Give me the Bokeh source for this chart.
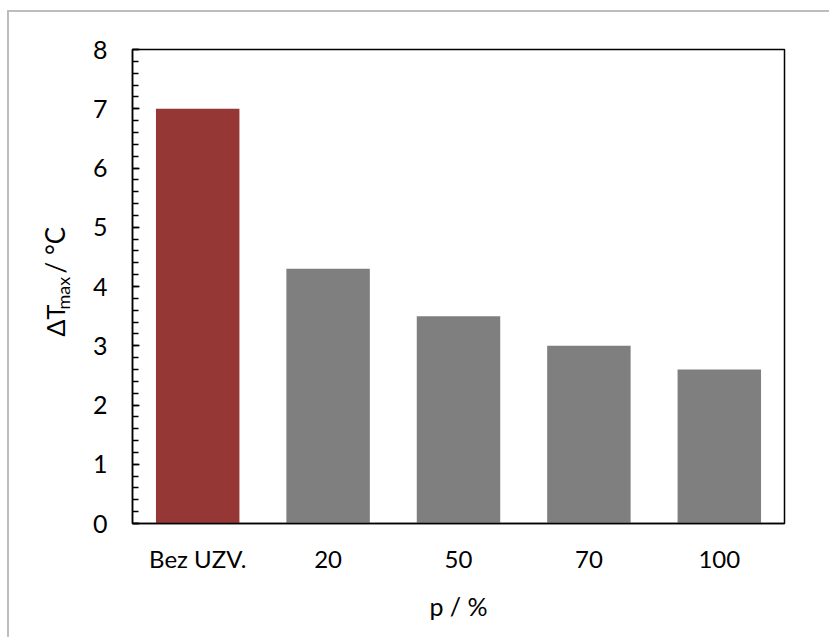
import math
from bokeh.plotting import figure
from bokeh.layouts import row
from bokeh.models import Range1d, FactorRange, ColumnDataSource, FixedTicker
from bokeh.core.properties import value
from bokeh.embed import file_html
from bokeh.resources import INLINE

categories = ["Bez UZV.", "20", "50", "70", "100"]
values = [7.0, 4.3, 3.5, 3.0, 2.6]
colors = ["#953735", "#7f7f7f", "#7f7f7f", "#7f7f7f", "#7f7f7f"]
y_ticks = [0, 1, 2, 3, 4, 5, 6, 7, 8]
x_title = "p / %"
y_title_parts = ["ΔT", "max", "/ °C"]

FONT = "Lato"
H = 625

# ---- main chart
p = figure(x_range=FactorRange(*categories, range_padding=0), y_range=Range1d(0, 8),
           width=740, height=H, output_backend="svg", toolbar_location=None,
           min_border_left=41, min_border_right=45, min_border_top=37, min_border_bottom=114)

src = ColumnDataSource(dict(x=categories, top=values, color=colors))
p.vbar(x="x", top="top", width=0.64, color="color", line_color=None, source=src)

p.xgrid.visible = False
p.ygrid.visible = False
p.outline_line_color = "black"
p.outline_line_width = 1.5

p.yaxis.ticker = FixedTicker(ticks=y_ticks, minor_ticks=[i * 0.2 for i in range(41)])
p.yaxis.axis_line_color = "black"
p.yaxis.axis_line_width = 1.5
p.yaxis.major_tick_in = 7
p.yaxis.major_tick_out = 0
p.yaxis.minor_tick_in = 6
p.yaxis.minor_tick_out = 0
p.yaxis.major_tick_line_width = 1.5
p.yaxis.minor_tick_line_width = 1.5
p.yaxis.major_tick_line_color = "black"
p.yaxis.minor_tick_line_color = "black"
p.yaxis.major_label_standoff = 25
p.yaxis.major_label_text_font = FONT
p.yaxis.major_label_text_font_size = "25px"
p.yaxis.major_label_text_color = "black"

p.xaxis.axis_line_color = "black"
p.xaxis.axis_line_width = 1.5
p.xaxis.major_tick_in = 0
p.xaxis.major_tick_out = 0
p.xaxis.minor_tick_in = 0
p.xaxis.minor_tick_out = 0
p.xaxis.major_label_standoff = 20
p.xaxis.major_label_text_font = FONT
p.xaxis.major_label_text_font_size = "24px"
p.xaxis.major_label_text_color = "black"
p.xaxis.axis_label = x_title
p.xaxis.axis_label_text_font = FONT
p.xaxis.axis_label_text_font_size = "25px"
p.xaxis.axis_label_text_font_style = "normal"
p.xaxis.axis_label_text_color = "black"
p.xaxis.axis_label_standoff = 15

# ---- side panel holding the y-axis title; its frame is aligned with the main frame,
#      so its ranges are expressed in page pixels (x: 9..89, y: 49..523, negated)
side = figure(width=80, height=H, x_range=Range1d(9, 89), y_range=Range1d(-523, -49),
              output_backend="svg", toolbar_location=None,
              min_border_left=0, min_border_right=0, min_border_top=37, min_border_bottom=114)
side.axis.visible = False
side.grid.visible = False
side.outline_line_color = None

def ytext(x, y, text, size):
    side.text(x=[x], y=[-y], text=[text], angle=math.pi / 2,
              text_font=value(FONT), text_font_size=size, text_color="black",
              text_align="left", text_baseline="middle")

ytext(54, 336, y_title_parts[0], "25px")
ytext(62, 309, y_title_parts[1], "18px")
ytext(54, 273, y_title_parts[2], "26px")

layout = row(side, p)
layout.styles = {"margin-left": "7px", "margin-top": "10px",
                 "border-top": "2px solid #bdbdbd", "border-left": "2px solid #bdbdbd"}

open("out.html", "w").write(file_html(layout, INLINE))
